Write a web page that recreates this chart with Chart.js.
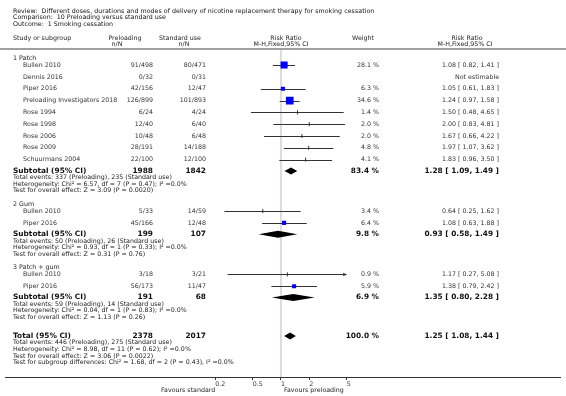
<!DOCTYPE html>
<html>
<head>
<meta charset="utf-8">
<script src="https://cdn.jsdelivr.net/npm/chart.js@4/dist/chart.umd.min.js"></script>
<style>
  html, body { margin: 0; padding: 0; background: #fff; }
  canvas { display: block; }
</style>
</head>
<body>
<canvas id="chart" width="566" height="396"></canvas>
<script>
const titleLines = [
  'Review:  Different doses, durations and modes of delivery of nicotine replacement therapy for smoking cessation',
  'Comparison:  10 Preloading versus standard use',
  'Outcome:  1 Smoking cessation'
];

const groupNames = ['1 Patch', '2 Gum', '3 Patch + gum'];
const studyGroup = [0, 0, 0, 0, 0, 0, 0, 0, 0, 1, 1, 2, 2];
const studyNames = ['Bullen 2010', 'Dennis 2016', 'Piper 2016', 'Preloading Investigators 2018', 'Rose 1994',
  'Rose 1998', 'Rose 2006', 'Rose 2009', 'Schuurmans 2004', 'Bullen 2010', 'Piper 2016', 'Bullen 2010', 'Piper 2016'];
const preloadingN = ['91/498', '0/32', '42/156', '126/899', '6/24', '12/40', '10/48', '28/191', '22/100', '5/33', '45/166', '3/18', '56/173'];
const standardN = ['80/471', '0/31', '12/47', '101/893', '4/24', '6/40', '6/48', '14/188', '12/100', '14/59', '12/48', '3/21', '11/47'];
const weights = [28.1, null, 6.3, 34.6, 1.4, 2.0, 2.0, 4.8, 4.1, 3.4, 6.4, 0.9, 5.9];
const ratios = [1.08, null, 1.05, 1.24, 1.50, 2.00, 1.67, 1.97, 1.83, 0.64, 1.08, 1.17, 1.38];
const lower = [0.82, null, 0.61, 0.97, 0.48, 0.83, 0.66, 1.07, 0.96, 0.25, 0.63, 0.27, 0.79];
const upper = [1.41, null, 1.83, 1.58, 4.65, 4.81, 4.22, 3.62, 3.50, 1.62, 1.88, 5.08, 2.42];

const subPreloading = [1988, 199, 191];
const subStandard = [1842, 107, 68];
const subWeight = [83.4, 9.8, 6.9];
const subRatio = [1.28, 0.93, 1.35];
const subLower = [1.09, 0.58, 0.80];
const subUpper = [1.49, 1.49, 2.28];
const subNotes = [
  ['Total events: 337 (Preloading), 235 (Standard use)',
   'Heterogeneity: Chi\u00b2 = 6.57, df = 7 (P = 0.47); I\u00b2 =0.0%',
   'Test for overall effect: Z = 3.09 (P = 0.0020)'],
  ['Total events: 50 (Preloading), 26 (Standard use)',
   'Heterogeneity: Chi\u00b2 = 0.93, df = 1 (P = 0.33); I\u00b2 =0.0%',
   'Test for overall effect: Z = 0.31 (P = 0.76)'],
  ['Total events: 59 (Preloading), 14 (Standard use)',
   'Heterogeneity: Chi\u00b2 = 0.04, df = 1 (P = 0.83); I\u00b2 =0.0%',
   'Test for overall effect: Z = 1.13 (P = 0.26)']
];

const totalPreloading = 2378;
const totalStandard = 2017;
const totalWeight = 100.0;
const totalRatio = 1.25;
const totalLower = 1.08;
const totalUpper = 1.44;
const totalNotes = [
  'Total events: 446 (Preloading), 275 (Standard use)',
  'Heterogeneity: Chi\u00b2 = 8.98, df = 11 (P = 0.62); I\u00b2 =0.0%',
  'Test for overall effect: Z = 3.06 (P = 0.0022)',
  'Test for subgroup differences: Chi\u00b2 = 1.68, df = 2 (P = 0.43), I\u00b2 =0.0%'
];

const xTicks = [0.2, 0.5, 1, 2, 5];
const favoursLeft = 'Favours standard';
const favoursRight = 'Favours preloading';

// ---- layout (row positions in the y scale, top to bottom) ----
const FONT = 'DejaVu Sans';
const COL = { left: 13, study: 23, pre: 153, std: 206, weight: 379, ci: 499 };
const PLOT_MIN = 0.2, PLOT_MAX = 5;
const TITLE_WIDTH = 361; // first title line is set a little looser in the original

const rows = [];
let yPos = 53.5;
groupNames.forEach((g, gi) => {
  rows.push({ kind: 'group', y: yPos, text: g });
  yPos += 7;
  studyNames.forEach((n, i) => {
    if (studyGroup[i] !== gi) return;
    rows.push({ kind: 'study', y: yPos, i });
    yPos += 12;
  });
  yPos -= 0.5;
  rows.push({ kind: 'sub', y: yPos, gi });
  subNotes[gi].forEach(t => { yPos += 6.7; rows.push({ kind: 'note', y: yPos, text: t }); });
  yPos += 13.6;
});
yPos += 5.4;
rows.push({ kind: 'total', y: yPos });
totalNotes.forEach(t => { yPos += 6.7; rows.push({ kind: 'note', y: yPos, text: t }); });

const markerData = rows.filter(r => r.kind === 'study' && weights[r.i] != null)
  .map(r => ({ x: ratios[r.i], y: r.y, w: weights[r.i] }));

function fmtCI(r, l, u) {
  return `${r.toFixed(2)} [ ${l.toFixed(2)}, ${u.toFixed(2)} ]`;
}

function text(ctx, s, x, y, align, size, bold, color) {
  ctx.font = (bold ? 'bold ' : '') + size + 'px "' + FONT + '"';
  ctx.textAlign = align;
  ctx.textBaseline = 'middle';
  ctx.fillStyle = color || '#222';
  ctx.fillText(s, x, y);
}

const forestPlugin = {
  id: 'forest',
  beforeDatasetsDraw(chart) {
    const { ctx, chartArea, scales: { x, y } } = chart;
    ctx.save();
    // header rule
    ctx.strokeStyle = '#a0a0a0';
    ctx.lineWidth = 2;
    ctx.beginPath();
    ctx.moveTo(0, 49); ctx.lineTo(chart.width, 49);
    ctx.stroke();
    // line of no effect
    ctx.strokeStyle = '#dcdcdc';
    ctx.lineWidth = 2;
    ctx.beginPath();
    ctx.moveTo(x.getPixelForValue(1), 50);
    ctx.lineTo(x.getPixelForValue(1), chartArea.bottom);
    ctx.stroke();
    // confidence intervals
    ctx.strokeStyle = '#333';
    ctx.fillStyle = '#333';
    ctx.lineWidth = 1;
    rows.filter(r => r.kind === 'study' && ratios[r.i] != null).forEach(r => {
      const py = Math.round(y.getPixelForValue(r.y)) + 0.5;
      const x0 = x.getPixelForValue(Math.max(lower[r.i], PLOT_MIN));
      const x1 = x.getPixelForValue(Math.min(upper[r.i], PLOT_MAX));
      ctx.beginPath();
      ctx.moveTo(x0, py); ctx.lineTo(x1, py);
      ctx.stroke();
      if (upper[r.i] > PLOT_MAX) {
        ctx.beginPath();
        ctx.moveTo(x1, py); ctx.lineTo(x1 - 3.5, py - 1.8); ctx.lineTo(x1 - 3.5, py + 1.8);
        ctx.closePath(); ctx.fill();
      }
    });
    ctx.restore();
  },
  afterDraw(chart) {
    const { ctx, chartArea, scales: { x, y } } = chart;
    ctx.save();
    const n = 6.3, b = 7.4;
    titleLines.forEach((t, i) => {
      if (i === 0) {
        ctx.font = n + 'px "' + FONT + '"';
        const extra = (TITLE_WIDTH - ctx.measureText(t).width) / (t.length - 1);
        ctx.letterSpacing = Math.max(0, extra).toFixed(2) + 'px';
      } else {
        ctx.letterSpacing = '0px';
      }
      text(ctx, t, COL.left, 11 + i * 6.6, 'left', n, false, '#111');
    });
    ctx.letterSpacing = '0px';
    // column headers
    text(ctx, 'Study or subgroup', COL.left, 38, 'left', n);
    text(ctx, 'Preloading', 125, 38, 'center', n);
    text(ctx, 'n/N', 117, 44.5, 'center', n);
    text(ctx, 'Standard use', 180, 38, 'center', n);
    text(ctx, 'n/N', 184, 44.5, 'center', n);
    const x1 = x.getPixelForValue(1);
    text(ctx, 'Risk Ratio', x1 + 5, 38, 'center', n);
    text(ctx, 'M-H,Fixed,95% CI', x1, 44.5, 'center', n);
    text(ctx, 'Weight', 363, 38, 'center', n);
    text(ctx, 'Risk Ratio', 467, 38, 'center', n);
    text(ctx, 'M-H,Fixed,95% CI', 465, 44.5, 'center', n);

    const diamond = (r, l, u, py) => {
      ctx.fillStyle = '#000';
      ctx.beginPath();
      ctx.moveTo(x.getPixelForValue(l), py);
      ctx.lineTo(x.getPixelForValue(r), py - 3.5);
      ctx.lineTo(x.getPixelForValue(u), py);
      ctx.lineTo(x.getPixelForValue(r), py + 3.5);
      ctx.closePath();
      ctx.fill();
    };

    rows.forEach(r => {
      const py = y.getPixelForValue(r.y);
      if (r.kind === 'group') {
        text(ctx, r.text, COL.left, py, 'left', n);
      } else if (r.kind === 'study') {
        const i = r.i;
        text(ctx, studyNames[i], COL.study, py, 'left', n, false, '#333');
        text(ctx, preloadingN[i], COL.pre, py, 'right', n, false, '#333');
        text(ctx, standardN[i], COL.std, py, 'right', n, false, '#333');
        if (weights[i] != null) {
          text(ctx, weights[i].toFixed(1) + ' %', COL.weight, py, 'right', n, false, '#333');
          text(ctx, fmtCI(ratios[i], lower[i], upper[i]), COL.ci, py, 'right', n, false, '#333');
        } else {
          text(ctx, 'Not estimable', COL.ci, py, 'right', n, false, '#333');
        }
      } else if (r.kind === 'sub') {
        const g = r.gi;
        text(ctx, 'Subtotal (95% CI)', COL.left, py, 'left', b, true, '#111');
        text(ctx, String(subPreloading[g]), COL.pre, py, 'right', b, true, '#111');
        text(ctx, String(subStandard[g]), COL.std, py, 'right', b, true, '#111');
        text(ctx, subWeight[g].toFixed(1) + ' %', COL.weight, py, 'right', b, true, '#111');
        text(ctx, fmtCI(subRatio[g], subLower[g], subUpper[g]), COL.ci, py, 'right', b, true, '#111');
        diamond(subRatio[g], subLower[g], subUpper[g], py);
      } else if (r.kind === 'total') {
        text(ctx, 'Total (95% CI)', COL.left, py, 'left', b, true, '#111');
        text(ctx, String(totalPreloading), COL.pre, py, 'right', b, true, '#111');
        text(ctx, String(totalStandard), COL.std, py, 'right', b, true, '#111');
        text(ctx, totalWeight.toFixed(1) + ' %', COL.weight, py, 'right', b, true, '#111');
        text(ctx, fmtCI(totalRatio, totalLower, totalUpper), COL.ci, py, 'right', b, true, '#111');
        diamond(totalRatio, totalLower, totalUpper, py);
      } else {
        text(ctx, r.text, COL.left, py, 'left', n, false, '#222');
      }
    });

    text(ctx, favoursLeft, x.getPixelForValue(0.2), 390.5, 'right', n, false, '#222');
    text(ctx, favoursRight, x1 + 3, 390.5, 'left', n, false, '#222');
    ctx.restore();
  }
};

const ctx = document.getElementById('chart').getContext('2d');
new Chart(ctx, {
  type: 'scatter',
  data: {
    datasets: [{
      data: markerData,
      backgroundColor: '#0000ff',
      borderColor: c => (c.raw && c.raw.w < 5 ? '#333' : '#0000ff'),
      borderWidth: c => (c.raw && c.raw.w < 5 ? 1 : 0),
      pointStyle: c => (c.raw && c.raw.w < 5 ? 'line' : 'rect'),
      rotation: c => (c.raw && c.raw.w < 5 ? 90 : 0),
      pointRadius: c => (c.raw && c.raw.w < 5 ? 2 : (1.5 + 1.05 * Math.sqrt(c.raw.w)) / 1.414),
      pointHoverRadius: c => (c.raw && c.raw.w < 5 ? 2 : (1.5 + 1.05 * Math.sqrt(c.raw.w)) / 1.414)
    }]
  },
  options: {
    responsive: false,
    animation: false,
    layout: { padding: 0 },
    plugins: { legend: { display: false }, tooltip: { enabled: false } },
    scales: {
      x: {
        type: 'logarithmic',
        position: 'bottom',
        min: 0.00117,
        max: 944,
        afterBuildTicks: s => { s.ticks = xTicks.map(v => ({ value: v })); },
        afterFit: s => { s.height = 19; },
        grid: { drawOnChartArea: false, drawTicks: true, tickLength: 3, color: '#333' },
        border: { display: true, color: '#333', width: 1 },
        ticks: {
          autoSkip: false,
          maxRotation: 0,
          align: 'start',
          padding: 1,
          color: '#333',
          font: { family: FONT, size: 6.3 },
          callback: v => String(v)
        }
      },
      y: {
        type: 'linear',
        display: false,
        reverse: true,
        min: 0,
        max: 377
      }
    }
  },
  plugins: [forestPlugin]
});
</script>
</body>
</html>
